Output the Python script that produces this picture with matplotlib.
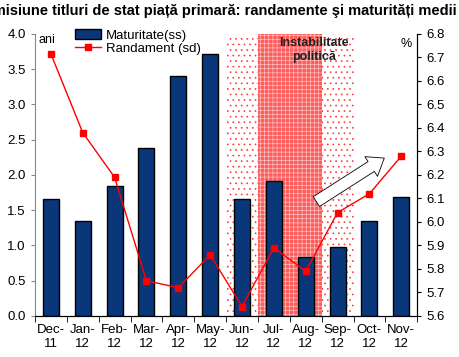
import numpy as np
import matplotlib
matplotlib.use('Agg')
import matplotlib.pyplot as plt
from matplotlib.patches import Patch
from matplotlib.lines import Line2D

plt.rcParams['font.family'] = ['Liberation Sans', 'DejaVu Sans']
plt.rcParams['hatch.linewidth'] = 0.45

# date
luni = ['Dec-\n11', 'Jan-\n12', 'Feb-\n12', 'Mar-\n12', 'Apr-\n12', 'May-\n12',
        'Jun-\n12', 'Jul-\n12', 'Aug-\n12', 'Sep-\n12', 'Oct-\n12', 'Nov-\n12']
maturitate = [1.66, 1.35, 1.85, 2.38, 3.40, 3.72, 1.66, 1.92, 0.84, 0.98, 1.34, 1.69]
randament = [6.715, 6.38, 6.19, 5.75, 5.72, 5.86, 5.64, 5.89, 5.79, 6.04, 6.12, 6.28]

x = np.arange(len(luni))

fig = plt.figure(figsize=(4.6, 3.57), dpi=100)
ax = fig.add_axes([0.076, 0.115, 0.831, 0.79])
ax2 = ax.twinx()

# zona de instabilitate politica
ax.axvspan(5.5, 9.5, facecolor='white', edgecolor='#ff3030', hatch='...', linewidth=0, zorder=0)
ax.axvspan(6.5, 8.5, facecolor='#ff5c5c', edgecolor='#ffc8c8', hatch='++++', linewidth=0, zorder=0.5)

ax.bar(x, maturitate, width=0.5, color='#0a367a', edgecolor='black', linewidth=1, zorder=2)
ax2.plot(x, randament, color='red', marker='s', markersize=5, linewidth=1)

ax.set_xlim(-0.5, 11.5)
ax.set_ylim(0, 4.0)
ax.set_yticks(np.arange(0, 4.01, 0.5))
ax.set_yticklabels(['%.1f' % v for v in np.arange(0, 4.01, 0.5)])
ax2.set_ylim(5.6, 6.8)
ax2.set_yticks(np.arange(5.6, 6.81, 0.1))
ax2.set_yticklabels(['%.1f' % v for v in np.arange(5.6, 6.81, 0.1)])

ax.set_xticks(x)
ax.set_xticklabels(luni, fontsize=9.5)
ax.set_xticks(np.arange(-0.5, 11.6, 1), minor=True)
ax.tick_params(axis='x', which='major', length=0, pad=6)
ax.tick_params(axis='x', which='minor', length=4, direction='out')
ax.tick_params(axis='y', labelsize=9.5, length=3, color='#888')
ax2.tick_params(axis='y', labelsize=9.5, length=3)

for a in (ax, ax2):
    a.spines['top'].set_visible(False)
ax.spines['left'].set_color('#888')
ax2.spines['left'].set_visible(False)

ax.text(0.01, 1.0, 'ani', transform=ax.transAxes, fontsize=9, va='top')
ax2.text(0.985, 0.985, '%', transform=ax2.transAxes, fontsize=9, va='top', ha='right')

ax2.text(8.25, 6.785, 'Instabilitate\npolitică', ha='center', va='top', fontsize=9,
         fontweight='bold', color='#222', linespacing=1.2)

# sageata
ax2.annotate('', xy=(0.92, 0.565), xytext=(0.73, 0.4), xycoords='axes fraction',
             arrowprops=dict(arrowstyle='simple,head_length=0.8,head_width=1.2,tail_width=0.6',
                             facecolor='white', edgecolor='black', linewidth=0.6,
                             mutation_scale=14))

handles = [Patch(facecolor='#0a367a', edgecolor='black'),
           Line2D([], [], color='red', marker='s', markersize=5, linewidth=1)]
ax2.legend(handles, ['Maturitate(ss)', 'Randament (sd)'], loc='upper left',
           bbox_to_anchor=(0.09, 1.035), frameon=False, fontsize=9.5,
           handlelength=2.0, borderaxespad=0, labelspacing=0.1, handletextpad=0.4)

fig.text(0.993, 0.99, 'Emisiune titluri de stat piață primară: randamente şi maturități medii',
         ha='right', va='top', fontsize=10.5, fontweight='bold')

fig.savefig('out.png', dpi=100)
